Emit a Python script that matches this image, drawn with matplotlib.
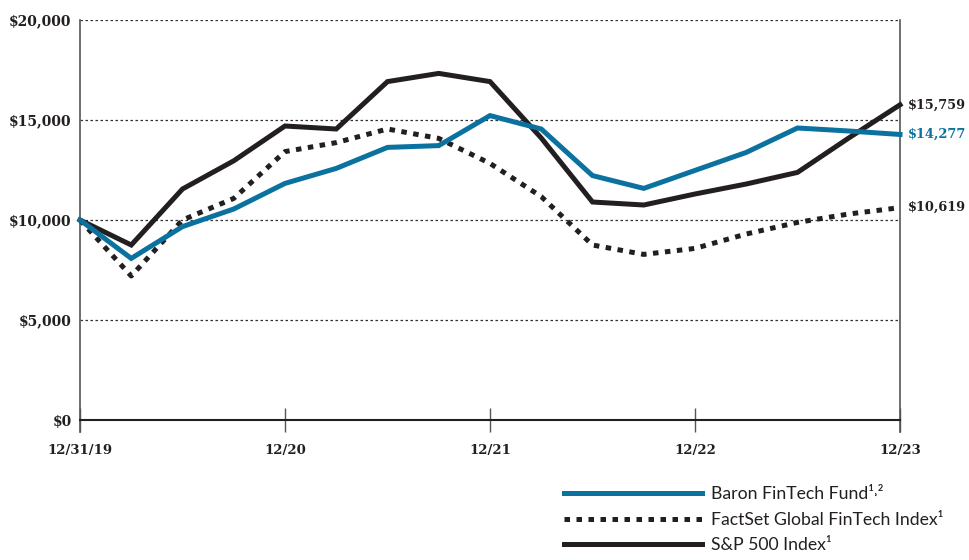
import matplotlib
matplotlib.use("Agg")
import matplotlib.pyplot as plt
from matplotlib.lines import Line2D

# ---- data ----
quarters = list(range(17))  # quarterly points 12/31/19 .. 12/31/23
tick_pos = [0, 4, 8, 12, 16]
tick_labels = ["12/31/19", "12/20", "12/21", "12/22", "12/23"]
y_ticks = [0, 5000, 10000, 15000, 20000]
y_tick_labels = ["$0", "$5,000", "$10,000", "$15,000", "$20,000"]

baron = [10000, 8080, 9670, 10550, 11830, 12580, 13630, 13720, 15220,
         14550, 12220, 11580, 12480, 13380, 14600, 14450, 14277]
factset = [10000, 7200, 10000, 11080, 13420, 13870, 14550, 14080, 12830,
           11170, 8750, 8280, 8580, 9300, 9880, 10300, 10619]
sp500 = [10000, 8750, 11550, 12960, 14700, 14550, 16920, 17330, 16920,
         14100, 10900, 10750, 11300, 11800, 12380, 14100, 15759]

names = ["Baron FinTech Fund\u00b9\u02d2\u00b2", "FactSet Global FinTech Index\u00b9", "S&P 500 Index\u00b9"]
end_labels = ["$14,277", "$10,619", "$15,759"]

blue = "#0b72a0"
black = "#231f20"

fig = plt.figure(figsize=(9.69, 5.6), dpi=100)
ax = fig.add_axes([80/969, 1-432/560, 820/969, 412/560])
ax.set_xlim(0, 16)
ax.set_ylim(-600, 20000)

serif = "DejaVu Serif"

# grid
for v in y_ticks[1:]:
    ax.axhline(v, color="#333333", lw=0.9, ls=(0, (2, 2)), zorder=1)

lw = 3.6
ax.plot(quarters, sp500, color=black, lw=lw, solid_joinstyle="miter", zorder=3, clip_on=False)
ax.plot(quarters, factset, color=black, lw=lw, ls=(0, (1.1, 1.3)), dash_capstyle="butt", zorder=3, clip_on=False)
ax.plot(quarters, baron, color=blue, lw=lw, solid_joinstyle="miter", zorder=4, clip_on=False)

# spines
ax.spines["top"].set_visible(False)
ax.spines["left"].set_color("#555555")
ax.spines["right"].set_color("#555555")
ax.spines["left"].set_linewidth(1.2)
ax.spines["right"].set_linewidth(1.2)
ax.spines["bottom"].set_position(("data", 0))
ax.spines["bottom"].set_color("#231f20")
ax.spines["bottom"].set_linewidth(1.5)

ax.set_yticks(y_ticks)
ax.set_yticklabels(y_tick_labels, fontfamily=serif, fontweight="bold", fontsize=10, color="#231f20")
ax.tick_params(axis="y", length=0, pad=6)

ax.set_xticks(tick_pos)
ax.set_xticklabels(tick_labels, fontfamily=serif, fontweight="bold", fontsize=9.5, color="#231f20")
ax.tick_params(axis="x", direction="inout", length=17, width=1, color="#555555", pad=9)

# end labels
series = [baron, factset, sp500]
colors = [blue, black, black]
for vals, lab, c in zip(series, end_labels, colors):
    ax.annotate(lab, xy=(quarters[-1], vals[-1]), xytext=(6, 0), textcoords="offset points",
                va="center", ha="left", fontfamily=serif, fontweight="bold", fontsize=9.3,
                color=c, annotation_clip=False)

# legend
handles = [
    Line2D([], [], color=blue, lw=lw),
    Line2D([], [], color=black, lw=lw, ls=(0, (1.1, 1.3)), dash_capstyle="butt"),
    Line2D([], [], color=black, lw=lw),
]
fig.legend(handles, names, loc="upper left", bbox_to_anchor=(564/969, 1-486/560),
           frameon=False, borderpad=0, borderaxespad=0, handlelength=7.8, handletextpad=0.55,
           labelspacing=0.55, prop={"family": ["Lato", "DejaVu Sans"], "size": 12.7},
           labelcolor="#231f20")

fig.savefig("out.png", dpi=100)
